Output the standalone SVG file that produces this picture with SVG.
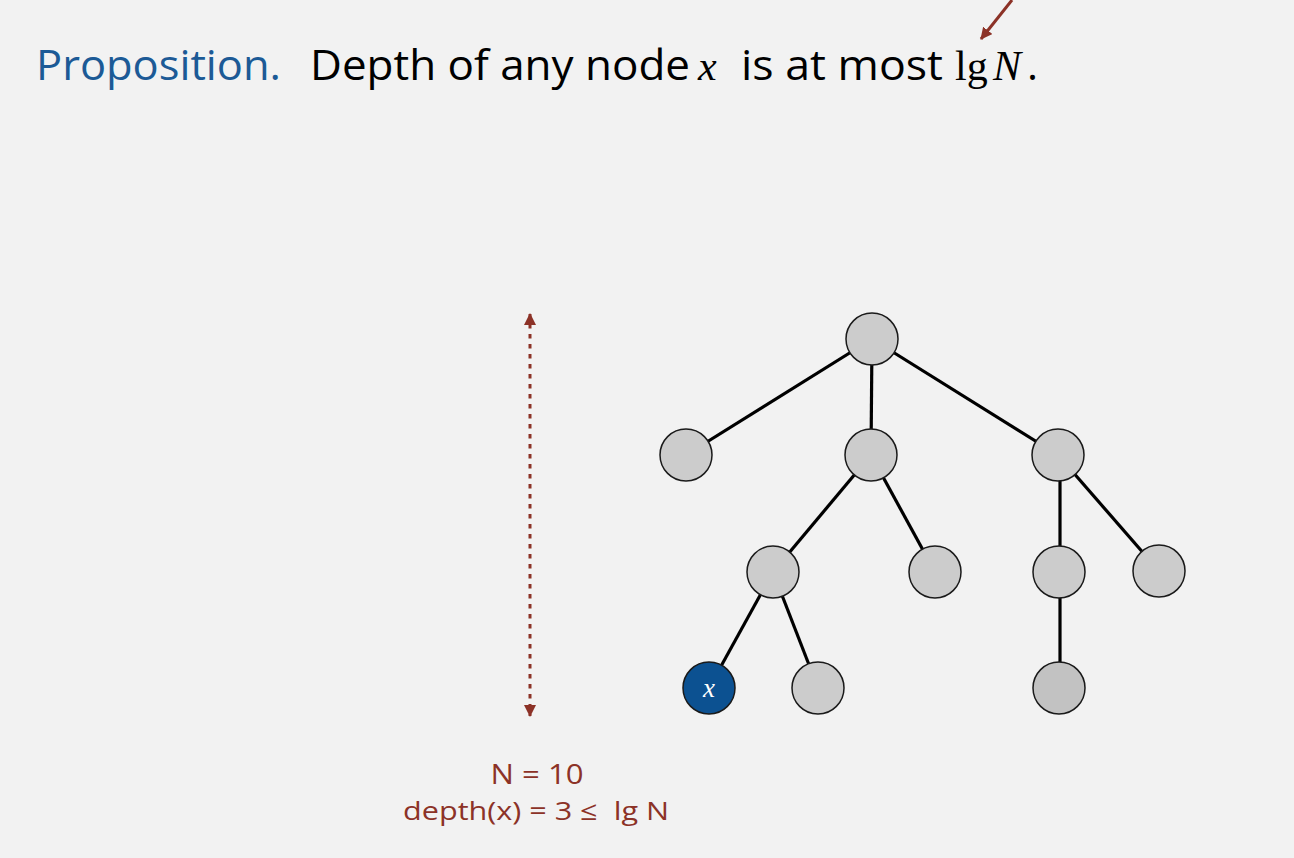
<svg xmlns="http://www.w3.org/2000/svg" width="1294" height="858" viewBox="0 0 1294 858">
<style>
.sans{font-family:"Open Sans","Liberation Sans",sans-serif;}
.serif{font-family:"Liberation Serif","DejaVu Serif",serif;}
.edge{stroke:#000;stroke-width:3.2;fill:none;}
.node{fill:#cccccc;stroke:#1a1a1a;stroke-width:1.5;}
.red{fill:#8c3227;}
</style>
<defs>
<marker id="ah" viewBox="0 0 12 12" refX="11" refY="6" markerWidth="12" markerHeight="12" markerUnits="userSpaceOnUse" orient="auto-start-reverse">
<path d="M0,0 L12,6 L0,12 z" fill="#8c3227"/>
</marker>
</defs>
<rect width="1294" height="858" fill="#f2f2f2"/>
<g id="title">
<text x="36" y="80" class="sans" font-size="42" fill="#1c5a96" textLength="245" lengthAdjust="spacingAndGlyphs">Proposition.</text>
<text x="310" y="80" class="sans" font-size="42" fill="#000" textLength="380" lengthAdjust="spacingAndGlyphs">Depth of any node</text>
<text x="698" y="80" class="serif" font-size="42" font-style="italic" fill="#000">x</text>
<text x="741" y="80" class="sans" font-size="42" fill="#000" textLength="202" lengthAdjust="spacingAndGlyphs">is at most</text>
<text x="955" y="80" class="serif" font-size="42" fill="#000">lg</text>
<text x="993" y="80" class="serif" font-size="42" font-style="italic" fill="#000">N</text>
<text x="1027" y="80" class="sans" font-size="42" fill="#000">.</text>
</g>
<g id="connectors">
<line x1="1012" y1="0" x2="981" y2="39" stroke="#8c3227" stroke-width="3" marker-end="url(#ah)"/>
<line x1="530" y1="314" x2="530" y2="716" stroke="#8c3227" stroke-width="3" stroke-dasharray="4.5 5.5" marker-start="url(#ah)" marker-end="url(#ah)"/>
<line class="edge" x1="872" y1="339" x2="686" y2="455"/>
<line class="edge" x1="872" y1="339" x2="871" y2="455"/>
<line class="edge" x1="872" y1="339" x2="1058" y2="455"/>
<line class="edge" x1="871" y1="455" x2="773" y2="572"/>
<line class="edge" x1="871" y1="455" x2="935" y2="572"/>
<line class="edge" x1="1060" y1="455" x2="1060" y2="572"/>
<line class="edge" x1="1058" y1="455" x2="1159" y2="571"/>
<line class="edge" x1="773" y1="572" x2="709" y2="688"/>
<line class="edge" x1="773" y1="572" x2="818" y2="688"/>
<line class="edge" x1="1060" y1="572" x2="1060" y2="688"/>
</g>
<g id="n-root"><circle class="node" cx="872" cy="339" r="26"/></g>
<g id="n-l1a"><circle class="node" cx="686" cy="455" r="26"/></g>
<g id="n-l1b"><circle class="node" cx="871" cy="455" r="26"/></g>
<g id="n-l1c"><circle class="node" cx="1058" cy="455" r="26"/></g>
<g id="n-l2a"><circle class="node" cx="773" cy="572" r="26"/></g>
<g id="n-l2b"><circle class="node" cx="935" cy="572" r="26"/></g>
<g id="n-l2c"><circle class="node" cx="1059" cy="572" r="26"/></g>
<g id="n-l2d"><circle class="node" cx="1159" cy="571" r="26"/></g>
<g id="n-x"><circle cx="709" cy="688" r="26" fill="#0c5191" stroke="#1a1a1a" stroke-width="1.5"/><text x="709" y="697" class="serif" font-size="27" font-style="italic" fill="#fff" text-anchor="middle">x</text></g>
<g id="n-l3b"><circle class="node" cx="818" cy="688" r="26"/></g>
<g id="n-l3c"><circle class="node" cx="1059" cy="688" r="26" style="fill:#c2c2c2"/></g>
<g id="label">
<text x="537" y="784" class="sans red" font-size="27" text-anchor="middle" textLength="93" lengthAdjust="spacingAndGlyphs">N = 10</text>
<text x="536" y="820" class="sans red" font-size="26" text-anchor="middle" textLength="266" lengthAdjust="spacingAndGlyphs" style="white-space:pre">depth(x) = 3 ≤  lg N</text>
</g>
</svg>
